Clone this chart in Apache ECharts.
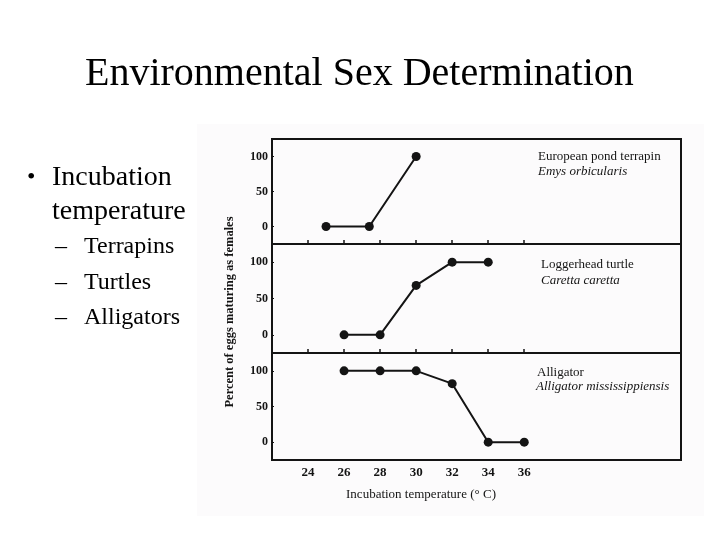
<!DOCTYPE html>
<html>
<head>
<meta charset="utf-8">
<script src="https://cdn.jsdelivr.net/npm/echarts@6/dist/echarts.min.js"></script>
<style>html,body{margin:0;padding:0;background:#fff}#c{width:720px;height:540px}</style>
</head>
<body>
<div id="c"></div>
<script>
// ---- data ----
const xTicks = [24, 26, 28, 30, 32, 34, 36];
const yTicks = [0, 50, 100];
const terrapinTemp = [25, 27.4, 30];
const terrapinPct = [0, 0, 100];
const turtleTemp = [26, 28, 30, 32, 34];
const turtlePct = [0, 0, 68, 100, 100];
const alligatorTemp = [26, 28, 30, 32, 34, 36];
const alligatorPct = [100, 100, 100, 82, 0, 0];
const speciesNames = ['European pond terrapin', 'Loggerhead turtle', 'Alligator'];
const speciesLatin = ['Emys orbicularis', 'Caretta caretta', 'Alligator mississippiensis'];
const bulletMain = ['Incubation', 'temperature'];
const bulletSub = ['Terrapins', 'Turtles', 'Alligators'];

const serif = '"Liberation Serif", "DejaVu Serif", serif';
const ink = '#141414';

const grids = [
  {left: 272, right: 39, top: 139, height: 105},
  {left: 272, right: 39, top: 244, height: 109},
  {left: 272, right: 39, top: 353, height: 107}
].map(g => Object.assign(g, {show: true, borderColor: ink, borderWidth: 2, backgroundColor: 'transparent'}));

function xAx(i) {
  return {
    type: 'value', gridIndex: i, min: 22, max: 44.7, interval: 2,
    axisLine: {show: false, onZero: false},
    splitLine: {show: false},
    axisTick: {show: i < 2, inside: true, length: 4, customValues: xTicks, lineStyle: {color: ink, width: 1.5}},
    axisLabel: {show: i === 2, customValues: xTicks, margin: 6, fontFamily: serif, fontSize: 13, fontWeight: 'bold', color: ink}
  };
}
function yAx(i) {
  return {
    type: 'value', gridIndex: i, min: -25, max: 125, interval: 25,
    axisLine: {show: false, onZero: false},
    splitLine: {show: false},
    axisTick: {show: true, inside: true, length: 2, customValues: yTicks, lineStyle: {color: ink}},
    axisLabel: {customValues: yTicks, margin: 4, fontFamily: serif, fontSize: 12, fontWeight: 'bold', color: ink}
  };
}
function ser(i, xs, ys) {
  return {
    type: 'line', xAxisIndex: i, yAxisIndex: i,
    data: xs.map((x, k) => [x, ys[k]]),
    symbol: 'circle', symbolSize: 9, showSymbol: true,
    lineStyle: {color: ink, width: 2}, itemStyle: {color: ink},
    animation: false
  };
}

const graphic = [
  {type: 'rect', shape: {x: 197, y: 124, width: 507, height: 392}, style: {fill: '#fcfbfc'}, z: -10},
  // y axis title
  {type: 'text', x: 230, y: 312, rotation: Math.PI / 2, style: {text: 'Percent of eggs maturing as females', font: 'bold 12.5px ' + serif, fill: ink, align: 'center', verticalAlign: 'middle'}},
  // x axis title
  {type: 'text', x: 421, y: 495, style: {text: 'Incubation temperature (° C)', font: '13px ' + serif, fill: ink, align: 'center', verticalAlign: 'middle'}},
  // species labels
  {type: 'text', x: 538, y: 157, style: {text: speciesNames[0], font: '13px ' + serif, fill: ink, verticalAlign: 'middle'}},
  {type: 'text', x: 538, y: 172, style: {text: speciesLatin[0], font: 'italic 13px ' + serif, fill: ink, verticalAlign: 'middle'}},
  {type: 'text', x: 541, y: 265, style: {text: speciesNames[1], font: '13px ' + serif, fill: ink, verticalAlign: 'middle'}},
  {type: 'text', x: 541, y: 281, style: {text: speciesLatin[1], font: 'italic 13px ' + serif, fill: ink, verticalAlign: 'middle'}},
  {type: 'text', x: 537, y: 373, style: {text: speciesNames[2], font: '13px ' + serif, fill: ink, verticalAlign: 'middle'}},
  {type: 'text', x: 536, y: 387, style: {text: speciesLatin[2], font: 'italic 13px ' + serif, fill: ink, verticalAlign: 'middle'}},
  // bullet list
  {type: 'text', x: 27, y: 178, style: {text: '•', font: '24px ' + serif, fill: '#000', verticalAlign: 'middle'}},
  {type: 'text', x: 52, y: 178, style: {text: bulletMain[0], font: '28px ' + serif, fill: '#000', verticalAlign: 'middle'}},
  {type: 'text', x: 52, y: 212, style: {text: bulletMain[1], font: '28px ' + serif, fill: '#000', verticalAlign: 'middle'}, z: -20}
];
bulletSub.forEach((t, k) => {
  const y = 247 + k * 35.5;
  graphic.push({type: 'text', x: 55, y: y, style: {text: '–', font: '24px ' + serif, fill: '#000', verticalAlign: 'middle'}});
  graphic.push({type: 'text', x: 84, y: y, style: {text: t, font: '24px ' + serif, fill: '#000', verticalAlign: 'middle'}});
});

const chart = echarts.init(document.getElementById('c'));
chart.setOption({
  animation: false,
  backgroundColor: '#fff',
  title: {text: 'Environmental Sex Determination', left: 80, top: 49, textStyle: {fontFamily: serif, fontSize: 40, fontWeight: 'normal', color: '#000'}},
  grid: grids,
  xAxis: [xAx(0), xAx(1), xAx(2)],
  yAxis: [yAx(0), yAx(1), yAx(2)],
  series: [ser(0, terrapinTemp, terrapinPct), ser(1, turtleTemp, turtlePct), ser(2, alligatorTemp, alligatorPct)],
  graphic: graphic
});
</script>
</body>
</html>
